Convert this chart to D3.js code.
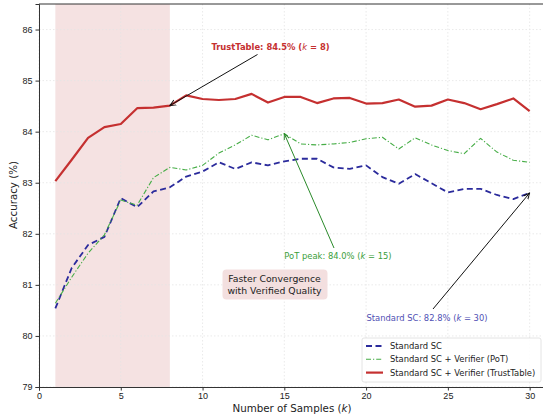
<!DOCTYPE html>
<html>
<head>
<meta charset="utf-8">
<script src="https://cdn.jsdelivr.net/npm/d3@7"></script>
<style>
  body { margin: 0; background: #fff; }
  svg { font-family: "DejaVu Sans", sans-serif; }
</style>
</head>
<body>
<script>

// number of samples k
const samples = d3.range(1, 31);

// accuracy (%) per k for each method
const standardSC = [80.54, 81.33, 81.78, 81.94, 82.70, 82.52, 82.83, 82.91, 83.12, 83.22,
                    83.40, 83.27, 83.40, 83.34, 83.42, 83.47, 83.47, 83.30, 83.27, 83.34,
                    83.11, 82.98, 83.17, 82.99, 82.81, 82.88, 82.88, 82.76, 82.68, 82.80];
const potSC = [80.64, 81.15, 81.62, 81.98, 82.66, 82.56, 83.10, 83.30, 83.25, 83.34,
               83.58, 83.74, 83.93, 83.84, 83.96, 83.76, 83.74, 83.76, 83.79, 83.86,
               83.89, 83.66, 83.88, 83.74, 83.63, 83.57, 83.87, 83.60, 83.44, 83.40];
const trustSC = [83.03, 83.45, 83.88, 84.09, 84.15, 84.46, 84.47, 84.51, 84.71, 84.64,
                 84.62, 84.64, 84.74, 84.57, 84.68, 84.68, 84.56, 84.65, 84.66, 84.55,
                 84.56, 84.63, 84.49, 84.51, 84.63, 84.56, 84.44, 84.54, 84.65, 84.40];

const xTicks = [0, 5, 10, 15, 20, 25, 30];
const yTicks = [79, 80, 81, 82, 83, 84, 85, 86];
const shadeRange = [1, 8];

const colors = {blue: "#2b2b9c", green: "#46ad46", red: "#c53030"};

window.onload = function() {
    drawChart();
};

/** Draws the accuracy vs number of samples line chart. */
function drawChart() {

    const width = 543;
    const height = 417;
    const margin = {top: 4, right: -3, bottom: 30, left: 39};
    const w = width - margin.left - margin.right;
    const h = height - margin.top - margin.bottom;

    let xScale = d3.scaleLinear()
                   .domain([0, 31])
                   .range([0, w]);

    let yScale = d3.scaleLinear()
                   .domain([79, 86.5])
                   .range([h, 0]);

    let svg = d3.select("body")
                .append("svg")
                .attr("width", width)
                .attr("height", height);

    let g = svg.append("g")
               .attr("transform", "translate(" + margin.left + "," + margin.top + ")");

    // shaded early-k region
    g.append("rect")
     .attr("x", xScale(shadeRange[0]))
     .attr("y", 0)
     .attr("width", xScale(shadeRange[1]) - xScale(shadeRange[0]))
     .attr("height", h)
     .attr("fill", "#f5e2e2");

    // dotted grid
    g.selectAll(".xgrid")
     .data(xTicks)
     .enter().append("line")
     .attr("x1", d => xScale(d)).attr("x2", d => xScale(d))
     .attr("y1", 0).attr("y2", h)
     .attr("stroke", "#e4e4e4")
     .attr("stroke-width", 0.8)
     .attr("stroke-dasharray", "1.5,2");

    g.selectAll(".ygrid")
     .data(yTicks)
     .enter().append("line")
     .attr("x1", 0).attr("x2", w)
     .attr("y1", d => yScale(d)).attr("y2", d => yScale(d))
     .attr("stroke", "#e4e4e4")
     .attr("stroke-width", 0.8)
     .attr("stroke-dasharray", "1.5,2");

    // axes
    let xAxis = g.append("g")
                 .attr("transform", "translate(0," + h + ")")
                 .call(d3.axisBottom(xScale).tickValues(xTicks).tickSize(3.5).tickPadding(2));

    let yAxis = g.append("g")
                 .call(d3.axisLeft(yScale).tickValues(yTicks).tickSize(3.5).tickPadding(3));

    [xAxis, yAxis].forEach(function(ax) {
        ax.selectAll("text").style("font-size", "9px").attr("fill", "#222");
        ax.selectAll("line").attr("stroke", "#333");
        ax.select(".domain").attr("stroke", "#333").attr("stroke-width", 1);
    });

    // top spine
    g.append("line")
     .attr("x1", 0).attr("x2", w)
     .attr("y1", 0).attr("y2", 0)
     .attr("stroke", "#333")
     .attr("stroke-width", 1);

    // axis labels
    let xLabel = svg.append("text")
                    .attr("x", 292)
                    .attr("y", 412)
                    .attr("text-anchor", "middle")
                    .style("font-size", "10.3px")
                    .attr("fill", "#222");
    xLabel.append("tspan").text("Number of Samples (");
    xLabel.append("tspan").attr("font-style", "italic").text("k");
    xLabel.append("tspan").text(")");

    svg.append("text")
       .attr("transform", "translate(17," + 195 + ") rotate(-90)")
       .attr("text-anchor", "middle")
       .style("font-size", "10.3px")
       .attr("fill", "#222")
       .text("Accuracy (%)");

    // lines
    let line = d3.line()
                 .x((d, i) => xScale(samples[i]))
                 .y(d => yScale(d));

    let series = [
        {values: standardSC, color: colors.blue, width: 1.8, dash: "6,3.5", label: "Standard SC"},
        {values: potSC, color: colors.green, width: 1.1, dash: "5,2,1.2,2", label: "Standard SC + Verifier (PoT)"},
        {values: trustSC, color: colors.red, width: 2.2, dash: null, label: "Standard SC + Verifier (TrustTable)"}
    ];

    series.forEach(function(s) {
        g.append("path")
         .datum(s.values)
         .attr("d", line)
         .attr("fill", "none")
         .attr("stroke", s.color)
         .attr("stroke-width", s.width)
         .attr("stroke-dasharray", s.dash)
         .attr("stroke-linejoin", "round");
    });

    // arrow markers
    let defs = svg.append("defs");
    [["arrowBlack", "#111"], ["arrowGreen", "#2a8a2a"]].forEach(function(m) {
        defs.append("marker")
            .attr("id", m[0])
            .attr("viewBox", "0 0 10 10")
            .attr("refX", 9).attr("refY", 5)
            .attr("markerWidth", 7).attr("markerHeight", 7)
            .attr("markerUnits", "userSpaceOnUse")
            .attr("orient", "auto")
            .append("path")
            .attr("d", "M0,1 L9,5 L0,9")
            .attr("fill", "none")
            .attr("stroke", m[1])
            .attr("stroke-width", 1.4);
    });

    // annotations
    function annotate(k, value, tx, ty, color, arrowColor, marker, parts, bold) {
        g.append("line")
         .attr("x1", tx.ax).attr("y1", ty.ay)
         .attr("x2", xScale(k)).attr("y2", yScale(value))
         .attr("stroke", arrowColor)
         .attr("stroke-width", 1)
         .attr("marker-end", "url(#" + marker + ")");

        let t = g.append("text")
                 .attr("x", tx.x)
                 .attr("y", ty.y)
                 .attr("text-anchor", "middle")
                 .style("font-size", "8.4px")
                 .style("font-weight", bold ? "bold" : "normal")
                 .attr("fill", color);
        parts.forEach(function(p) {
            t.append("tspan")
             .attr("font-style", p[1] ? "italic" : "normal")
             .attr("font-weight", p[1] ? "normal" : null)
             .text(p[0]);
        });
    }

    annotate(8, trustSC[7], {x: 231.5, ax: 218.5}, {y: 46, ay: 50.5}, "#c53030", "#111", "arrowBlack",
             [["TrustTable: 84.5% ("], ["k", true], [" = 8)"]], true);
    annotate(15, potSC[14], {x: 299, ax: 295}, {y: 254.5, ay: 244}, "#3a9e3a", "#2a8a2a", "arrowGreen",
             [["PoT peak: 84.0% ("], ["k", true], [" = 15)"]], false);
    annotate(30, standardSC[29], {x: 388, ax: 394}, {y: 316.5, ay: 305}, "#5050b4", "#111", "arrowBlack",
             [["Standard SC: 82.8% ("], ["k", true], [" = 30)"]], false);

    // text box
    g.append("rect")
     .attr("x", 183.5).attr("y", 265.5)
     .attr("width", 105).attr("height", 30)
     .attr("rx", 4)
     .attr("fill", "#f3dfdf");

    let box = g.append("text")
               .attr("text-anchor", "middle")
               .style("font-size", "9.3px")
               .attr("fill", "#222");
    box.append("tspan").attr("x", 235.5).attr("y", 278).text("Faster Convergence");
    box.append("tspan").attr("x", 235.5).attr("y", 289.5).text("with Verified Quality");

    // legend
    let legend = svg.append("g")
                    .attr("transform", "translate(362,338)");

    legend.append("rect")
          .attr("width", 179).attr("height", 44)
          .attr("rx", 2)
          .attr("fill", "#fff")
          .attr("fill-opacity", 0.85)
          .attr("stroke", "#ddd")
          .attr("stroke-width", 0.8);

    series.forEach(function(s, i) {
        let y = 8 + i * 13.3;
        legend.append("line")
              .attr("x1", 4).attr("x2", 21)
              .attr("y1", y).attr("y2", y)
              .attr("stroke", s.color)
              .attr("stroke-width", s.width)
              .attr("stroke-dasharray", s.dash);
        legend.append("text")
              .attr("x", 28).attr("y", y + 3.1)
              .style("font-size", "8.4px")
              .attr("fill", "#222")
              .text(s.label);
    });
}
</script>
</body>
</html>
